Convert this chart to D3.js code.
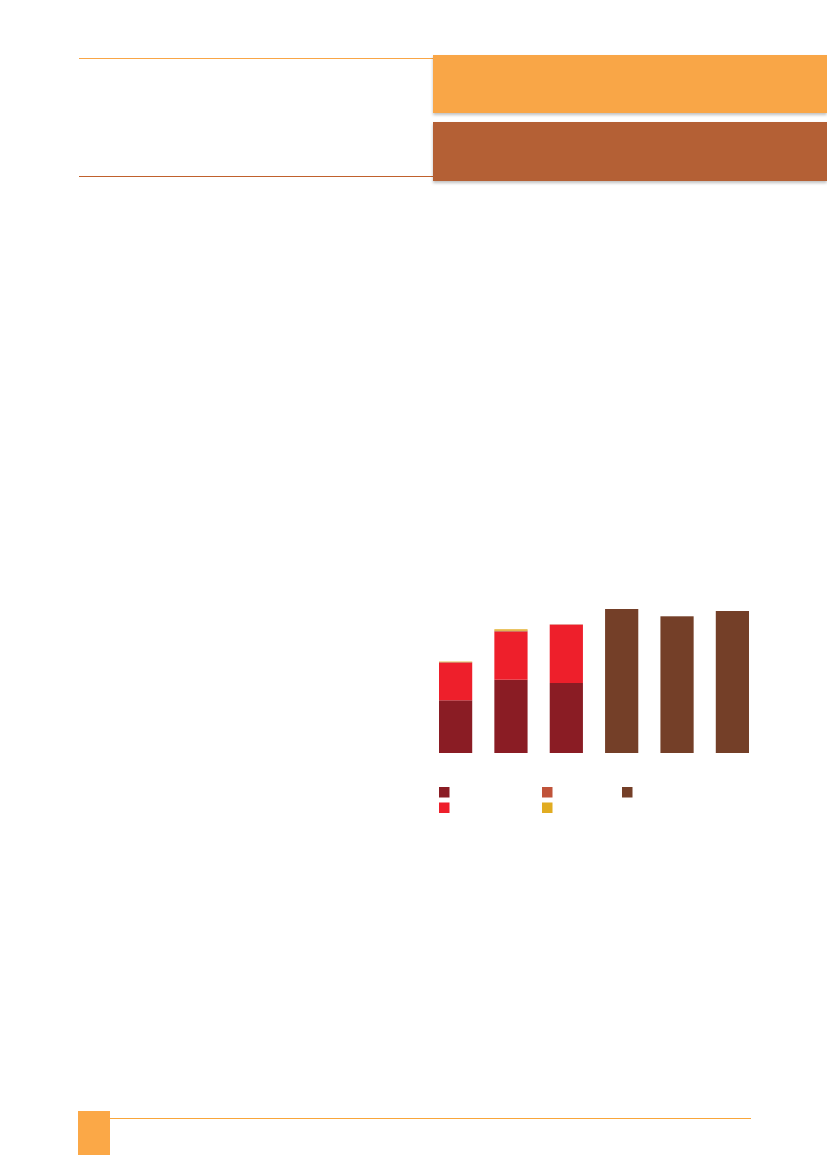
<!DOCTYPE html>
<html>
<head>
<meta charset="utf-8">
<script src="https://cdn.jsdelivr.net/npm/d3@7/dist/d3.min.js"></script>
<style>
html,body{margin:0;padding:0;background:#fff;}
svg{display:block;}
</style>
</head>
<body>
<script>
// ---- data ----
const categories = ["A","B","C","D","E","F"];
const seriesNames = ["darkred","red","orangered","yellow","brown"];
const darkRed   = [52.7, 73.3, 70.0, 0, 0, 0];
const brightRed = [37.6, 48.0, 58.3, 0, 0, 0];
const orangeRed = [0.6, 1.0, 0.3, 0, 0, 0];
const yellow    = [0.5, 1.4, 0.0, 0, 0, 0];
const brown     = [0, 0, 0, 144.0, 136.7, 142.0];
const legendItems = [
  {key:"darkred", col:0, row:0},
  {key:"orangered", col:1, row:0},
  {key:"brown", col:2, row:0},
  {key:"red", col:0, row:1},
  {key:"yellow", col:1, row:1}
];

const colors = {
  darkred:"#8A1C24", red:"#EE1F2B", orangered:"#C0533A",
  yellow:"#E1AC21", brown:"#743F28"
};

const W = 827, H = 1169;
const svg = d3.select("body").append("svg").attr("width", W).attr("height", H);

// shadow filter
const defs = svg.append("defs");
const f = defs.append("filter").attr("id","sh").attr("x","-5%").attr("y","-20%").attr("width","110%").attr("height","150%");
f.append("feDropShadow").attr("dx",0).attr("dy",2).attr("stdDeviation",1.5).attr("flood-color","#000").attr("flood-opacity",0.25);

// ---- header decoration ----
svg.append("line").attr("x1",79).attr("x2",433).attr("y1",58.5).attr("y2",58.5)
  .attr("stroke","#F9A646").attr("stroke-width",1);
svg.append("line").attr("x1",79).attr("x2",433).attr("y1",176.5).attr("y2",176.5)
  .attr("stroke","#C0612D").attr("stroke-width",1);
svg.append("rect").attr("x",433).attr("y",55).attr("width",W-433).attr("height",58)
  .attr("fill","#F9A646").attr("filter","url(#sh)");
svg.append("rect").attr("x",433).attr("y",122).attr("width",W-433).attr("height",59)
  .attr("fill","#B46134").attr("filter","url(#sh)");

// ---- footer ----
svg.append("rect").attr("x",78).attr("y",1111).attr("width",32).attr("height",44).attr("fill","#FBA847");
svg.append("line").attr("x1",110).attr("x2",751).attr("y1",1118.5).attr("y2",1118.5)
  .attr("stroke","#F9A63A").attr("stroke-width",1);

// ---- chart ----
const data = categories.map((c,i)=>({
  cat:c, darkred:darkRed[i], red:brightRed[i], orangered:orangeRed[i], yellow:yellow[i], brown:brown[i]
}));
const stack = d3.stack().keys(seriesNames)(data);

const x = d3.scaleBand().domain(categories).range([439, 749]).paddingInner(0.4).paddingOuter(0);
const y = d3.scaleLinear().domain([0,150]).range([753, 603]);

const g = svg.append("g");
g.selectAll("g.s").data(stack).join("g").attr("class","s")
  .attr("fill", d=>colors[d.key])
  .selectAll("rect").data(d=>d).join("rect")
  .attr("x", d=>x(d.data.cat))
  .attr("width", x.bandwidth())
  .attr("y", d=>y(d[1]))
  .attr("height", d=>Math.max(0, y(d[0])-y(d[1])));

// ---- legend ----
const colX = [439, 542, 622];
const rowY = [787, 802.5];
const lg = svg.append("g");
lg.selectAll("rect").data(legendItems).join("rect")
  .attr("x", d=>colX[d.col]).attr("y", d=>rowY[d.row])
  .attr("width",10.5).attr("height",10.5)
  .attr("fill", d=>colors[d.key]);
</script>
</body>
</html>
